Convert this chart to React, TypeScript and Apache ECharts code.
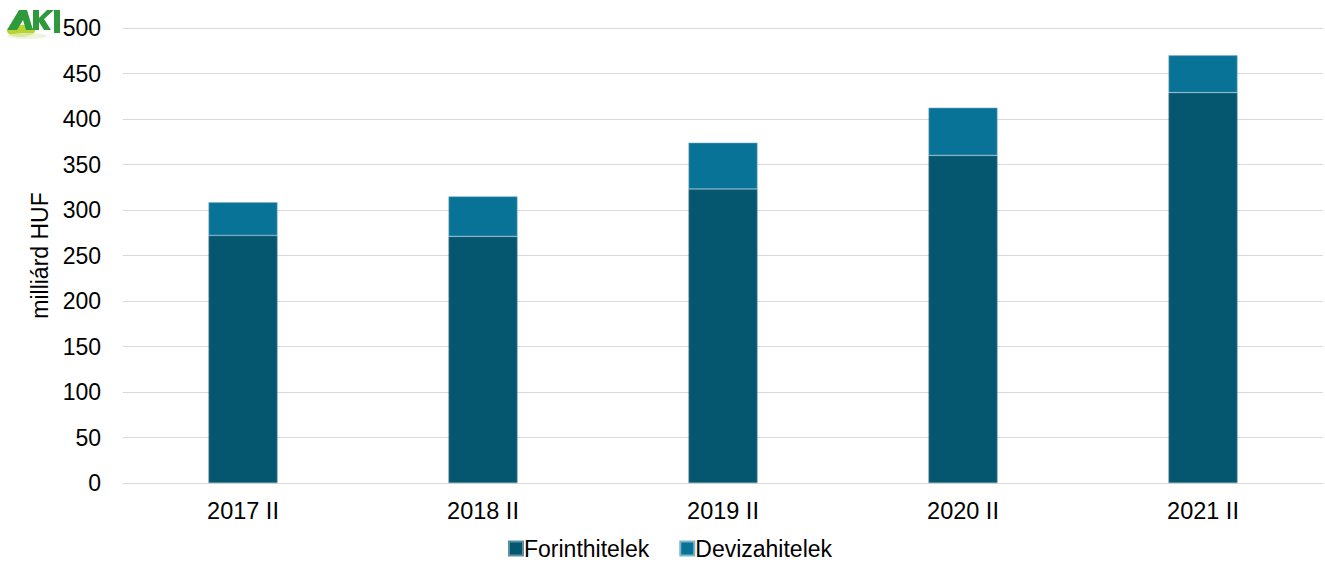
import React, { useEffect, useRef } from "react";
import * as echarts from "echarts";

const categories = ["2017 II", "2018 II", "2019 II", "2020 II", "2021 II"];
const forint = [272, 271, 323, 360, 429];
const deviza = [36.5, 44, 51, 52.5, 41];
const seriesNames = ["Forinthitelek", "Devizahitelek"];

export default function App() {
  const ref = useRef<HTMLDivElement>(null);
  useEffect(() => {
    const chart = echarts.init(ref.current!, null, { renderer: "svg" });
    const font = "Liberation Sans, Arial, sans-serif";
    chart.setOption({
      animation: false,
      textStyle: { fontFamily: font },
      grid: { left: 123, right: 2, top: 28, bottom: 81 },
      legend: {
        top: 537,
        left: 508,
        padding: 0,
        itemWidth: 14,
        itemHeight: 14,
        itemGap: 30,
        icon: "rect",
        textStyle: { fontSize: 23, color: "#000", fontFamily: font, padding: [0, 0, 0, -4] },
        data: seriesNames,
      },
      xAxis: {
        type: "category",
        data: categories,
        axisLine: { lineStyle: { color: "#d9d9d9" } },
        axisTick: { show: false },
        axisLabel: { fontSize: 23.5, color: "#000", margin: 16, fontFamily: font },
      },
      yAxis: {
        type: "value",
        min: 0,
        max: 500,
        interval: 50,
        name: "milliárd HUF",
        nameLocation: "middle",
        nameGap: 72,
        nameTextStyle: { fontSize: 23, color: "#000", fontFamily: font },
        axisLine: { show: false },
        axisTick: { show: false },
        splitLine: { lineStyle: { color: "#d9d9d9" } },
        axisLabel: { fontSize: 23, color: "#000", margin: 22, fontFamily: font },
      },
      series: [
        {
          name: seriesNames[0],
          type: "bar",
          stack: "total",
          data: forint,
          barWidth: 69,
          itemStyle: { color: "#05576F", borderColor: "#5b8fa3", borderWidth: 0.6 },
        },
        {
          name: seriesNames[1],
          type: "bar",
          stack: "total",
          data: deviza,
          barWidth: 69,
          itemStyle: { color: "#087396", borderColor: "#7fb3c8", borderWidth: 0.6 },
        },
      ],
      graphic: [
        {
          type: "group",
          left: 7,
          top: 10,
          children: [
            { type: "ellipse", shape: { cx: 16, cy: 21, rx: 14, ry: 6 }, style: { fill: "#b7d433" } },
            { type: "polygon", shape: { points: [[2, 20], [14, 0], [22, 0], [28, 20], [21, 20], [18, 10], [12, 20]] }, style: { fill: "#2e9a3c" } },
            { type: "polygon", shape: { points: [[28, 0], [34, 0], [34, 8], [42, 0], [49, 0], [39, 9], [46, 20], [39, 20], [34, 12], [34, 20], [28, 20]] }, style: { fill: "#2e9a3c" } },
            { type: "rect", shape: { x: 49, y: 0, width: 6, height: 23 }, style: { fill: "#2e9a3c" } },
            { type: "ellipse", shape: { cx: 22, cy: 26, rx: 20, ry: 3 }, style: { fill: "#e6efd0", opacity: 0.7 } },
          ],
        },
      ],
    });
    return () => chart.dispose();
  }, []);
  return (
    <div
      ref={ref}
      style={{ position: "absolute", left: 0, top: 0, width: 1325, height: 564, background: "#fff" }}
    />
  );
}
